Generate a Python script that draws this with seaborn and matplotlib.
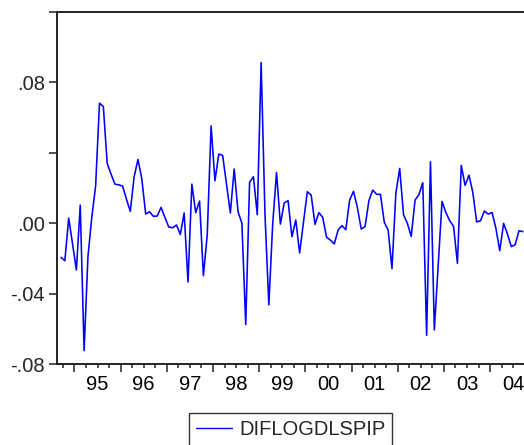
import numpy as np
import pandas as pd
import seaborn as sns
import matplotlib
matplotlib.use("Agg")
import matplotlib.pyplot as plt
from matplotlib.ticker import FixedLocator, NullFormatter

# Monthly series, 1994M09 .. 2004M09
values = [
    -0.0194, -0.0213, 0.0029, -0.0118, -0.0266, 0.0103, -0.0724, -0.0190, 0.0033, 0.0213,
    0.0682, 0.0663, 0.0340, 0.0279, 0.0222, 0.0218, 0.0211, 0.0137, 0.0067, 0.0264,
    0.0362, 0.0251, 0.0052, 0.0065, 0.0039, 0.0041, 0.0090, 0.0033, -0.0022, -0.0026,
    -0.0010, -0.0064, 0.0058, -0.0334, 0.0222, 0.0060, 0.0126, -0.0298, -0.0065, 0.0553,
    0.0241, 0.0393, 0.0385, 0.0222, 0.0058, 0.0308, 0.0065, 0.0000, -0.0576, 0.0232,
    0.0264, 0.0048, 0.0913, 0.0050, -0.0464, -0.0005, 0.0288, -0.0005, 0.0115, 0.0128,
    -0.0077, 0.0018, -0.0169, 0.0005, 0.0179, 0.0160, -0.0007, 0.0060, 0.0033, -0.0080,
    -0.0096, -0.0118, -0.0039, -0.0014, -0.0037, 0.0132, 0.0181, 0.0090, -0.0033, -0.0020,
    0.0128, 0.0188, 0.0164, 0.0164, 0.0005, -0.0039, -0.0258, 0.0169, 0.0311, 0.0048,
    -0.0001, -0.0075, 0.0132, 0.0162, 0.0230, -0.0637, 0.0349, -0.0606, -0.0241, 0.0124,
    0.0061, 0.0014, -0.0018, -0.0228, 0.0328, 0.0215, 0.0273, 0.0175, 0.0007, 0.0014,
    0.0069, 0.0052, 0.0061, -0.0029, -0.0156, -0.0001, -0.0061, -0.0133, -0.0122, -0.0043,
    -0.0048,
]
year_labels = ["95", "96", "97", "98", "99", "00", "01", "02", "03", "04"]
y_ticks = [-0.08, -0.04, 0.00, 0.04, 0.08, 0.12]
y_labels = ["-.08", "-.04", ".00", "", ".08", ""]
series_name = "DIFLOGDLSPIP"

df = pd.DataFrame({"obs": np.arange(len(values)), "value": values})

sns.set_style("white")
plt.rcParams["font.family"] = ["Liberation Sans", "DejaVu Sans"]

fig = plt.figure(figsize=(5.24, 4.45), dpi=100)
ax = fig.add_axes([57 / 524, (445 - 364) / 445, 1 - 57 / 524, 352 / 445])

sns.lineplot(data=df, x="obs", y="value", ax=ax, color="#0000ff",
             linewidth=1.15, label=series_name)

ax.set_xlim(-1.04, 120.3)
ax.set_ylim(-0.08, 0.12)

# x axis: year boundaries major, quarters minor, labels centred in years
first_jan = 3.5
major = [first_jan + 12 * k for k in range(len(year_labels))]
minor = [first_jan + 3 * j for j in range(-1, 3 * 12 + 12 * 9) if -1.04 < first_jan + 3 * j < 120.3]
ax.xaxis.set_major_locator(FixedLocator(major))
ax.xaxis.set_minor_locator(FixedLocator(minor))
ax.xaxis.set_major_formatter(NullFormatter())
for k, lab in enumerate(year_labels):
    ax.text(first_jan + 6 + 12 * k, -0.08 - 0.0065, lab, ha="center", va="top",
            fontsize=14.5, color="black", transform=ax.transData)

ax.yaxis.set_major_locator(FixedLocator(y_ticks))
ax.set_yticklabels(y_labels)

ax.tick_params(axis="x", which="major", direction="out", length=6, width=1.1,
               color="#222222", bottom=True)
ax.tick_params(axis="x", which="minor", direction="out", length=3, width=1.1,
               color="#222222", bottom=True)
ax.tick_params(axis="y", which="major", direction="out", length=5.5, width=1.1,
               color="#222222", left=True, labelsize=14.5, pad=3)

for side in ["left", "bottom", "top"]:
    ax.spines[side].set_visible(True)
    ax.spines[side].set_color("#222222")
    ax.spines[side].set_linewidth(1.4)
ax.spines["right"].set_visible(False)

ax.set_xlabel("")
ax.set_ylabel("")

leg = ax.legend(loc="upper center", bbox_to_anchor=(0.5, -0.138), frameon=True,
                fancybox=False, edgecolor="black", fontsize=14.5, handlelength=1.8,
                handletextpad=0.35, borderpad=0.35, borderaxespad=0)
leg.get_frame().set_linewidth(1.0)
for line in leg.get_lines():
    line.set_linewidth(1.0)

fig.savefig("out.png", dpi=100)
